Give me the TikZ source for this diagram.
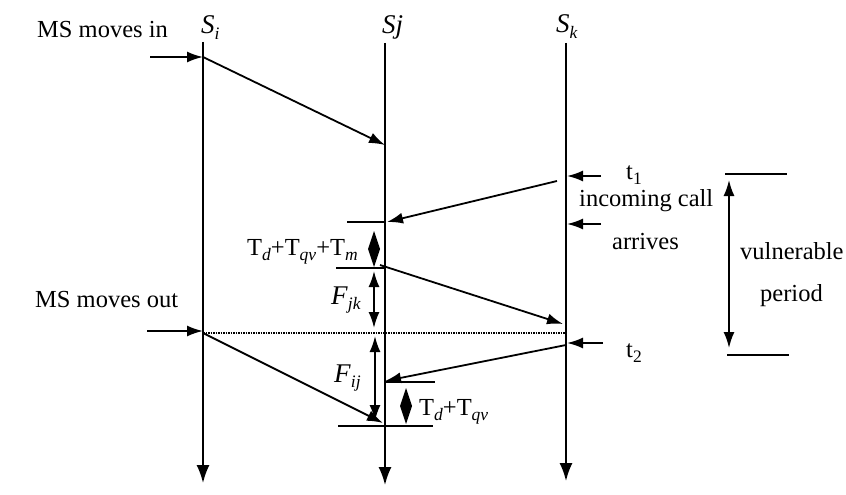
\documentclass[tikz,border=0pt]{standalone}
\usepackage{fontspec}
\setmainfont{Liberation Serif}
\usetikzlibrary{arrows.meta}
\newcommand\sbs[1]{\raisebox{-0.22em}{\fontsize{17.5}{18}\selectfont #1}}
\begin{document}
\begin{tikzpicture}[x=1pt,y=-1pt,
  ln/.style={line width=1.8pt},
  arr/.style={line width=1.8pt,-{Latex[length=16pt,width=11pt]}},
  life/.style={line width=1.8pt,-{Latex[length=18pt,width=13pt]}},
  dbl/.style={line width=1.8pt,{Latex[length=16pt,width=11pt]}-{Latex[length=16pt,width=11pt]}},
  dia/.style={fill=black},
  lbl/.style={font=\fontsize{24.5}{28}\selectfont, inner sep=0pt, anchor=base west},
  slbl/.style={font=\fontsize{27}{30}\selectfont, inner sep=0pt, anchor=base west},
]
\useasboundingbox (0,0) rectangle (846,495);
% lifelines
\coordinate (SiT) at (203,42); \coordinate (SiB) at (203,483);
\coordinate (SjT) at (385,43); \coordinate (SjB) at (385,485);
\coordinate (SkT) at (566,43); \coordinate (SkB) at (566,481);
\draw[life] (SiT) -- (SiB);
\draw[life] (SjT) -- (SjB);
\draw[life] (SkT) -- (SkB);
\node[slbl] (Si) at (201,34) {\textit{S}\sbs{\textit{i}}};
\node[slbl] (Sj) at (382,34) {\textit{Sj}};
\node[slbl] (Sk) at (556,33) {\textit{S}\sbs{\textit{k}}};
% MS moves in
\node[lbl] (msin) at (37,38) {MS moves in};
\coordinate (inA) at (150,57); \coordinate (inB) at (203,57);
\draw[arr] (inA) -- (inB);
\coordinate (a1) at (385,145);
\draw[arr] (inB) -- (a1);
% incoming call
\coordinate (t1A) at (601,176); \coordinate (t1B) at (567,176);
\draw[arr] (t1A) -- (t1B);
\coordinate (arA) at (601,224); \coordinate (arB) at (567,224);
\draw[arr] (arA) -- (arB);
\node[lbl] (t1) at (626,179) {t\sbs{1}};
\node[lbl] (inc) at (579,206) {incoming call};
\node[lbl] (arr) at (612,249) {arrives};
\coordinate (c1) at (557,181); \coordinate (c2) at (387,222);
\draw[arr] (c1) -- (c2);
\coordinate (tk1a) at (347,222); \coordinate (tk1b) at (385,222);
\draw[ln] (tk1a) -- (tk1b);
\coordinate (tk2a) at (336,268); \coordinate (tk2b) at (385,268);
\draw[ln] (tk2a) -- (tk2b);
\coordinate (d1a) at (374,231); \coordinate (d1b) at (374,267);
\fill[dia] (d1a) -- ++(6,18) -- (d1b) -- ++(-6,-18) -- cycle;
\node[lbl] (tdqvm) at (247,255) {T\sbs{\textit{d}}+T\sbs{\textit{qv}}+T\sbs{\textit{m}}};
\coordinate (fjka) at (374,271); \coordinate (fjkb) at (374,328);
\draw[dbl] (fjka) -- (fjkb);
\node[slbl] (fjk) at (331,304) {\textit{F}\sbs{\textit{jk}}};
\coordinate (m1) at (380,265); \coordinate (m2) at (563,324);
\draw[arr] (m1) -- (m2);
% MS moves out
\node[lbl] (msout) at (35,307) {MS moves out};
\coordinate (outA) at (147,331); \coordinate (outB) at (203,331);
\draw[arr] (outA) -- (outB);
\coordinate (dotA) at (203,333); \coordinate (dotB) at (566,333);
\draw[line width=1.5pt,densely dotted] (dotA) -- (dotB);
\coordinate (o2) at (383,423);
\draw[arr] (dotA) -- (o2);
\coordinate (fija) at (375,336); \coordinate (fijb) at (375,421);
\draw[dbl] (fija) -- (fijb);
\node[slbl] (fij) at (334,382) {\textit{F}\sbs{\textit{ij}}};
% t2
\coordinate (t2A) at (603,343); \coordinate (t2B) at (567,343);
\draw[arr] (t2A) -- (t2B);
\node[lbl] (t2) at (626,357) {t\sbs{2}};
\coordinate (k1) at (566,345); \coordinate (k2) at (385,381);
\draw[arr] (k1) -- (k2);
\coordinate (tk3a) at (385,382); \coordinate (tk3b) at (435,382);
\draw[ln] (tk3a) -- (tk3b);
\coordinate (tk4a) at (338,426); \coordinate (tk4b) at (433,426);
\draw[ln] (tk4a) -- (tk4b);
\coordinate (d2a) at (406,388); \coordinate (d2b) at (406,424);
\fill[dia] (d2a) -- ++(6,18) -- (d2b) -- ++(-6,-18) -- cycle;
\node[lbl] (tdqv) at (419,415) {T\sbs{\textit{d}}+T\sbs{\textit{qv}}};
% vulnerable period
\coordinate (v1a) at (725,174); \coordinate (v1b) at (787,174);
\draw[ln] (v1a) -- (v1b);
\coordinate (v2a) at (727,355); \coordinate (v2b) at (789,355);
\draw[ln] (v2a) -- (v2b);
\coordinate (vpa) at (729,180); \coordinate (vpb) at (729,348);
\draw[dbl] (vpa) -- (vpb);
\node[lbl] (vul) at (740,259) {vulnerable};
\node[lbl] (per) at (760,301) {period};
\end{tikzpicture}
\end{document}
